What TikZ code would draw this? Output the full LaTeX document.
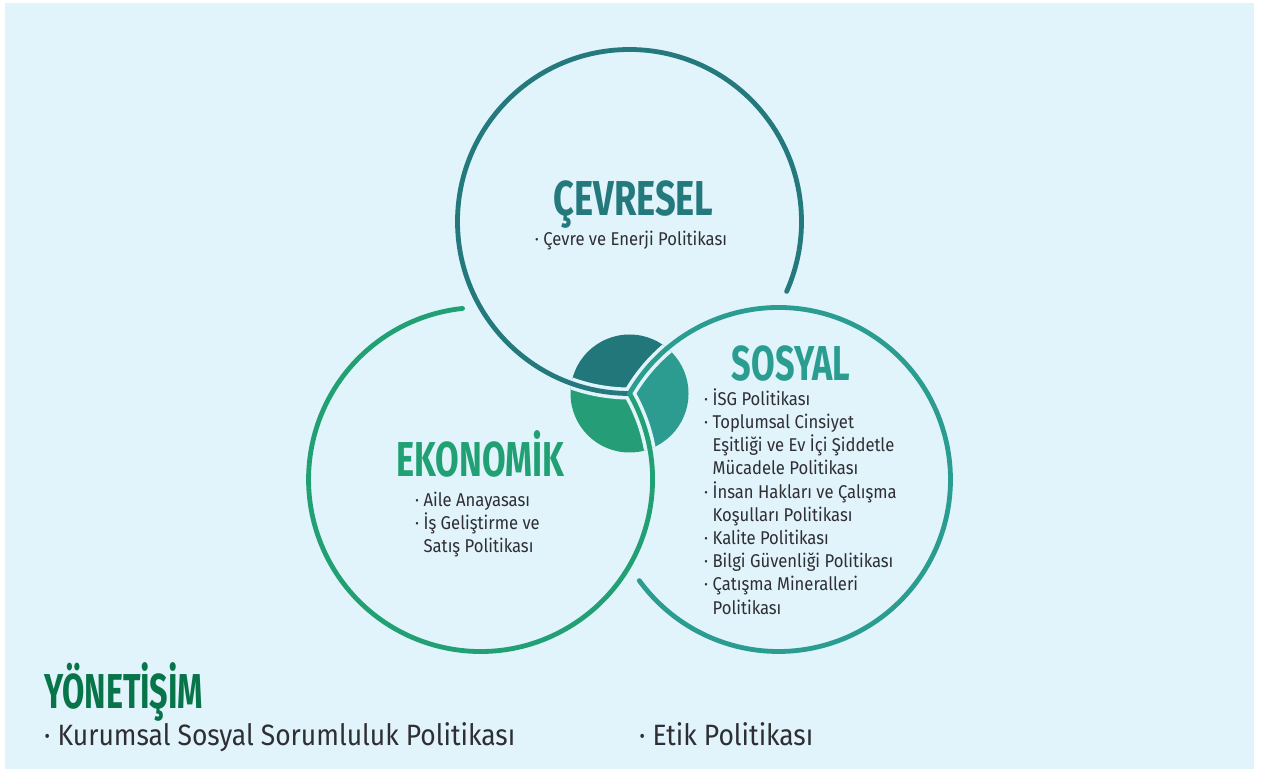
\documentclass[tikz,border=0pt]{standalone}
\usepackage{fontspec}
\setmainfont[FakeStretch=0.9]{Fira Sans}
\newfontfamily\headfont[FakeStretch=0.7]{Fira Sans}
\newfontfamily\headfontw[FakeStretch=0.74]{Fira Sans}
\newfontfamily\headfontn[FakeStretch=0.66]{Fira Sans}
\definecolor{bgc}{HTML}{E1F3FB}
\definecolor{cT}{HTML}{23797C}
\definecolor{cS}{HTML}{2A9D90}
\definecolor{cE}{HTML}{21A074}
\definecolor{pT}{HTML}{22777A}
\definecolor{pS}{HTML}{2C9C91}
\definecolor{pE}{HTML}{259E77}
\definecolor{yon}{HTML}{08744A}
\definecolor{txt}{HTML}{2E2E33}
\tikzset{
  ring/.style={line width=4.8, line cap=round},
  gapline/.style={bgc, line width=12, line cap=round},
  headtxt/.style={font=\headfont\bfseries\fontsize{49}{49}\selectfont, inner sep=0},
  bodytxt/.style={font=\fontsize{18.5}{23.2}\selectfont, text=txt, inner sep=0, align=left},
  bottxt/.style={font=\fontsize{29.4}{34}\selectfont, text=txt, inner sep=0},
}
\begin{document}
\begin{tikzpicture}[x=1pt,y=1pt]
\useasboundingbox (0,0) rectangle (1261,772);
\fill[white] (0,0) rectangle (1261,772);
\fill[bgc] (5,3) rectangle (1254,769);
\coordinate (J) at (629.5,378.5);
% pie sectors
\begin{scope}
\clip (J) circle[radius=59];
\fill[pT] (J) arc[start angle=150,end angle=120,radius=172] -- (692.5,460) -- (543.5,460) -- (543.5,401.5) arc[start angle=240,end angle=270,radius=172] -- cycle;
\fill[pS] (J) arc[start angle=150,end angle=120,radius=172] -- (760,441.5) -- (760,292.5) -- (652.5,292.5) arc[start angle=0,end angle=30,radius=172] -- cycle;
\fill[pE] (J) arc[start angle=270,end angle=240,radius=172] -- (543.5,250) -- (652.5,250) -- (652.5,292.5) arc[start angle=0,end angle=30,radius=172] -- cycle;
\draw[gapline] (J) arc[start angle=270,end angle=235,radius=172];
\draw[gapline] (J) arc[start angle=150,end angle=115,radius=172];
\draw[gapline] (J) arc[start angle=30,end angle=-5,radius=172];
\end{scope}
% rings
\draw[ring, cT] (J) arc[start angle=270,end angle=-24,radius=172];
\draw[ring, cE] (J) arc[start angle=30,end angle=-264,radius=172];
\draw[ring, cS] (J) arc[start angle=150,end angle=-144,radius=172];
% texts
\node[headtxt, font=\headfontw\bfseries\fontsize{49}{49}\selectfont, text=cT, anchor=base] (cevh) at (633.5,556) {ÇEVRESEL};
\node[bodytxt, anchor=base] (cevl) at (631,526) {· Çevre ve Enerji Politikası};
\node[headtxt, text=cS, anchor=base] (sosh) at (791,391) {SOSYAL};
\node[bodytxt, anchor=base west] (sosl) at (704,158) {· İSG Politikası\\
· Toplumsal Cinsiyet\\
\phantom{· }Eşitliği ve Ev İçi Şiddetle\\
\phantom{· }Mücadele Politikası\\
· İnsan Hakları ve Çalışma\\
\phantom{· }Koşulları Politikası\\
· Kalite Politikası\\
· Bilgi Güvenliği Politikası\\
· Çatışma Mineralleri\\
\phantom{· }Politikası};
\node[headtxt, text=cE, anchor=base] (ekoh) at (480.5,295) {EKONOMİK};
\node[bodytxt, anchor=base west] (ekol) at (415,219.5) {· Aile Anayasası\\
· İş Geliştirme ve\\
\phantom{· }Satış Politikası};
\node[headtxt, font=\headfontn\bfseries\fontsize{49}{49}\selectfont, text=yon, anchor=base west] (yonh) at (44,64) {YÖNETİŞİM};
\node[bottxt, anchor=base west] (yonl) at (44,27) {· Kurumsal Sosyal Sorumluluk Politikası};
\node[bottxt, anchor=base west] (etik) at (639,27) {· Etik Politikası};
\end{tikzpicture}
\end{document}
